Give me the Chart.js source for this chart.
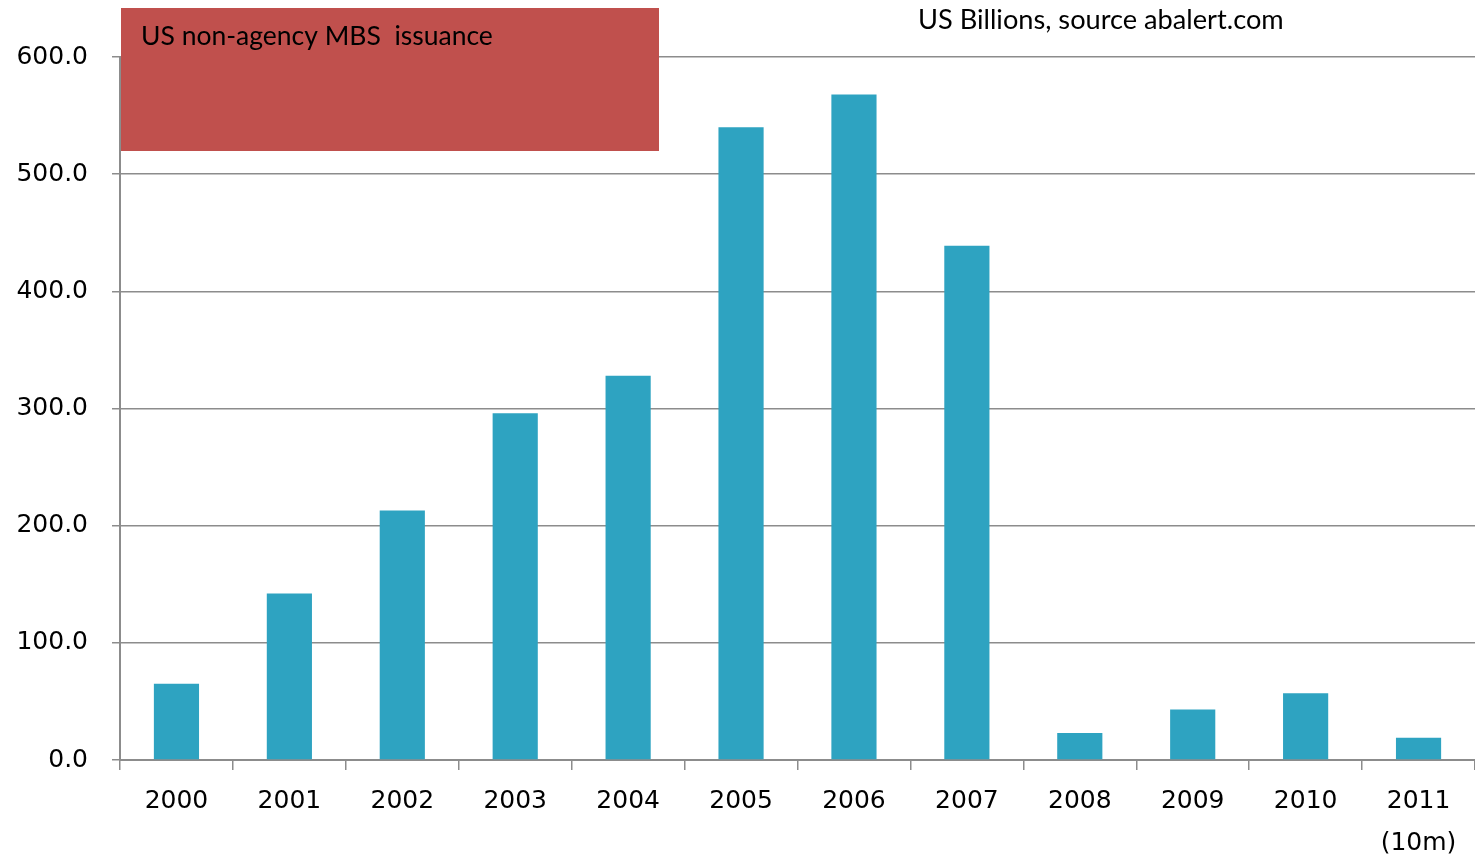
<!DOCTYPE html>
<html>
<head>
<meta charset="utf-8">
<script src="https://cdn.jsdelivr.net/npm/chart.js@4/dist/chart.umd.min.js"></script>
<style>
  html, body { margin: 0; padding: 0; background: #fff; }
  #wrap { width: 1475px; height: 856px; }
</style>
</head>
<body>
<div id="wrap"><canvas id="chart"></canvas></div>
<script>
const years = ['2000', '2001', '2002', '2003', '2004', '2005', '2006', '2007', '2008', '2009', '2010', ['2011', '(10m)']];
const issuance = [65, 142, 213, 296, 328, 540, 568, 439, 23, 43, 57, 19];
const yTicks = [0, 100, 200, 300, 400, 500, 600];

const boxTitle = 'US non-agency MBS  issuance';
const unitNote = 'US Billions, source abalert.com';

// red title box + unit note, drawn on top of the grid
const titleBox = {
    id: 'titleBox',
    afterDraw(chart) {
        const ctx = chart.ctx;
        const area = chart.chartArea;
        ctx.save();
        ctx.fillStyle = '#c0504d';
        ctx.fillRect(area.left + 1, 8, 538, 143);
        ctx.fillStyle = '#000';
        ctx.textBaseline = 'alphabetic';
        ctx.font = '26.5px Lato';
        ctx.fillText(boxTitle, area.left + 21, 45);
        ctx.font = '27.2px Lato';
        ctx.fillText(unitNote, 918, 29);
        ctx.restore();
    }
};

new Chart(document.getElementById('chart'), {
    type: 'bar',
    data: {
        labels: years,
        datasets: [{
            data: issuance,
            backgroundColor: '#2ea3c1',
            barPercentage: 0.4,
            categoryPercentage: 1
        }]
    },
    options: {
        responsive: true,
        maintainAspectRatio: false,
        animation: false,
        layout: { padding: { top: 57, right: 0, bottom: 0, left: 0 } },
        plugins: { legend: { display: false }, tooltip: { enabled: false } },
        scales: {
            x: {
                grid: { drawOnChartArea: false, color: '#8c8c8c', lineWidth: 1.5, tickLength: 10 },
                border: { color: '#8c8c8c', width: 2 },
                ticks: {
                    color: '#000',
                    font: { family: 'DejaVu Sans', size: 25, lineHeight: 1.7 },
                    padding: 10,
                    maxRotation: 0,
                    autoSkip: false
                },
                afterFit(scale) { scale.height = 96; }
            },
            y: {
                min: 0,
                max: 600,
                afterBuildTicks(scale) { scale.ticks = yTicks.map(v => ({ value: v })); },
                grid: { color: '#8c8c8c', lineWidth: 1.5, tickLength: 8 },
                border: { color: '#8c8c8c', width: 2 },
                ticks: {
                    color: '#000',
                    font: { family: 'DejaVu Sans', size: 25 },
                    padding: 24,
                    callback: v => v.toFixed(1)
                },
                afterFit(scale) { scale.width = 120; }
            }
        }
    },
    plugins: [titleBox]
});
</script>
</body>
</html>
